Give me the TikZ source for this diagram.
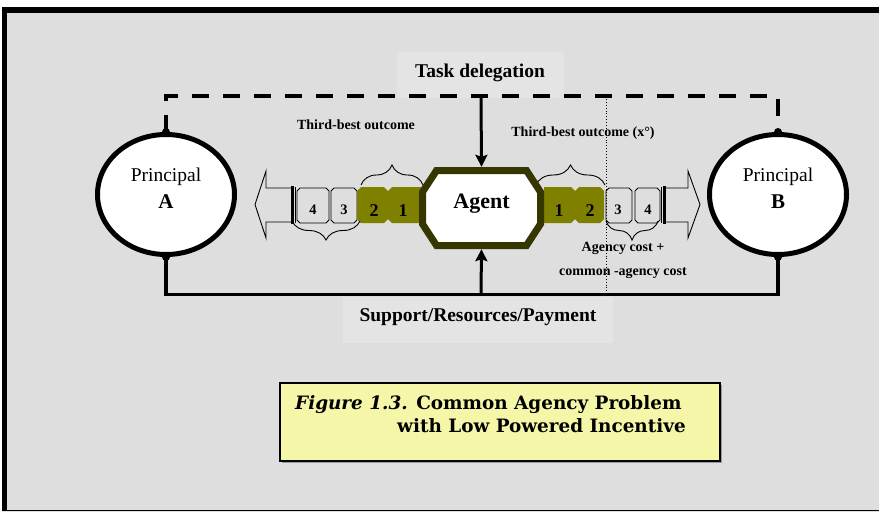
\documentclass[tikz,border=0pt]{standalone}
\usepackage{fontspec}
\setmainfont{Liberation Serif}
\newfontfamily\capfont{DejaVu Serif}
\usetikzlibrary{shapes.geometric,decorations.pathreplacing,arrows.meta}

\definecolor{bggray}{HTML}{DEDEDE}
\definecolor{boxgray}{HTML}{E4E4E4}
\definecolor{blockolive}{HTML}{808000}
\definecolor{agentrim}{HTML}{363600}
\definecolor{capyellow}{HTML}{F5F6A8}
\definecolor{shadowgray}{HTML}{9A9A9A}

\tikzset{
  principal/.style={ellipse, draw=black, line width=5pt, fill=white,
    minimum width=137pt, minimum height=120pt, inner sep=0pt},
  ptxt/.style={font=\fontsize{19.5}{21}\selectfont, inner sep=0pt},
  pletter/.style={font=\fontsize{21}{23}\selectfont\bfseries, inner sep=0pt},
  lbl/.style={font=\fontsize{19.5}{22}\selectfont\bfseries, inner sep=0pt},
  small/.style={font=\fontsize{14}{16}\selectfont\bfseries, inner sep=0pt},
  oliveblk/.style={fill=blockolive, draw=none},
  whiteblk/.style={draw=black, line width=0.8pt},
  onum/.style={font=\fontsize{18}{20}\selectfont\bfseries, inner sep=0pt},
  wnum/.style={font=\fontsize{14.5}{16}\selectfont\bfseries, inner sep=0pt},
  hollow/.style={draw=black, line width=0.9pt, line join=miter},
  dashline/.style={line width=4pt, dash pattern=on 17pt off 14pt},
  solidline/.style={line width=3.5pt},
  arrowline/.style={line width=3pt, -{Stealth[length=12pt,width=12pt,inset=2pt]}},
  bracetop/.style={decorate, decoration={brace, amplitude=20pt}, line width=0.9pt},
  bracebot/.style={decorate, decoration={brace, mirror, amplitude=19pt}, line width=0.9pt},
  captxt/.style={font=\capfont\fontsize{18.4}{21}\selectfont\bfseries, inner sep=0pt, anchor=base west},
}

\begin{document}
\begin{tikzpicture}[x=1pt,y=-1pt]
\useasboundingbox (0,0) rectangle (879,512);

% page, frame and panel
\fill[white] (0,0) rectangle (879,512);
\fill[black] (2,7) rectangle (879,511);
\fill[bggray] (7,13) rectangle (879,509.5);
\fill[bggray] (2,511) rectangle (879,512);

% lighter label panels
\fill[boxgray] (397,52) rectangle (564,98);
\fill[boxgray] (343,297) rectangle (613,343);

% principals
\node[principal] (pa) at (166,194.5) {};
\node[principal] (pb) at (778,194.5) {};
\node[ptxt] (patxt) at (166,177) {Principal};
\node[pletter] (palet) at (166,202) {A};
\node[ptxt] (pbtxt) at (778,177) {Principal};
\node[pletter] (pblet) at (778,202) {B};

% junction points on the two lines
\coordinate (tdj) at (481,96);
\coordinate (spj) at (481,294.5);
\coordinate (dtop) at (606,96);
\coordinate (dbot) at (606,294.5);

% task delegation (dashed) and support (solid) lines
\draw[dashline] (pa.north) -- (166,96) -- (778,96) -- (pb.north);
\draw[solidline] (pa.south) -- (166,294.5) -- (778,294.5) -- (pb.south);
\fill (pa.north) circle (4pt);
\fill (pa.south) circle (4pt);
\fill (pb.north) circle (4pt);
\fill (pb.south) circle (4pt);

% dotted separator
\draw[line width=0.9pt, dotted] (dtop) -- (dbot);

% labels on the lines
\node[lbl] (tasklbl) at (480,73) {Task delegation};
\node[lbl] (suplbl) at (478,317) {Support/Resources/Payment};

% left chain: hollow arrow, double bar, blocks
\draw[hollow] (292,188) -- (266,188) -- (266,171) -- (255,204.5) -- (266,238) -- (266,222) -- (292,222);
\draw[line width=2.6pt] (292.5,186) -- (292.5,224);
\draw[line width=0.8pt] (295.5,187) -- (295.5,223);

\draw[whiteblk] (300,188) -- (326,188) -- (329,191) -- (329,220) -- (326,223) -- (300,223) -- (297,220) -- (297,191) -- cycle;
\draw[whiteblk] (334,188) -- (354,188) -- (357,191) -- (357,220) -- (354,223) -- (334,223) -- (331,220) -- (331,191) -- cycle;
\fill[oliveblk] (361,187) -- (384,187) -- (388,191) -- (388,219) -- (384,223) -- (361,223) -- (357,219) -- (357,191) -- cycle;
\fill[oliveblk] (392,187) -- (421,187) -- (421,223) -- (392,223) -- (388,219) -- (388,191) -- cycle;
\node[wnum] (l4) at (313,210) {4};
\node[wnum] (l3) at (344,210) {3};
\node[onum] (l2) at (374,211) {2};
\node[onum] (l1) at (403,211) {1};

% right chain: blocks, double bar, hollow arrow
\fill[oliveblk] (544,187) -- (571,187) -- (575,191) -- (575,219) -- (571,223) -- (544,223) -- cycle;
\fill[oliveblk] (579,187) -- (600,187) -- (604,191) -- (604,219) -- (600,223) -- (579,223) -- (575,219) -- (575,191) -- cycle;
\draw[whiteblk] (609,188) -- (629,188) -- (632,191) -- (632,220) -- (629,223) -- (609,223) -- (606,220) -- (606,191) -- cycle;
\draw[whiteblk] (638,188) -- (657,188) -- (660,191) -- (660,220) -- (657,223) -- (638,223) -- (635,220) -- (635,191) -- cycle;
\node[onum] (r1) at (559,211) {1};
\node[onum] (r2) at (590,211) {2};
\node[wnum] (r3) at (618,210) {3};
\node[wnum] (r4) at (648,210) {4};
\draw[line width=0.8pt] (661,187) -- (661,223);
\draw[line width=2.6pt] (664.5,186) -- (664.5,224);
\draw[hollow] (665,188) -- (688,188) -- (688,171) -- (700,204.5) -- (688,238) -- (688,222) -- (665,222);

% braces
\draw[bracetop] (361,185) -- (423,185);
\draw[bracebot] (292,221) -- (360,221);
\draw[bracetop] (536,185) -- (605,185);
\draw[bracebot] (606,221) -- (658,221);

% agent
\draw[agentrim, line width=7pt, fill=white, line join=miter]
  (422.5,192) -- (436.5,170.5) -- (526.5,170.5) -- (540.5,192) --
  (540.5,224) -- (526.5,245.5) -- (436.5,245.5) -- (422.5,224) -- cycle;
\node[minimum width=125pt, minimum height=82pt, inner sep=0pt] (agent) at (481.5,208) {};
\node[font=\fontsize{22}{24}\selectfont\bfseries, inner sep=0pt] (agentlbl) at (481.5,204) {Agent};

% arrows into the agent
\draw[arrowline] (tdj) -- (agent.north);
\draw[arrowline] (spj) -- (agent.south);

% outcome and cost notes
\node[small] (tbl) at (356,125) {Third-best outcome};
\node[small] (tbr) at (583,133) {Third-best outcome (x°)};
\node[small] (ac1) at (623,248) {Agency cost +};
\node[small] (ac2) at (623,273) {common -agency cost};

% caption
\fill[shadowgray] (282,385) rectangle (722,463);
\draw[fill=capyellow, line width=1.3pt] (280,383) rectangle (720,461);
\node[captxt] (cap1) at (295,409) {\textit{Figure 1.3.} Common Agency Problem};
\node[captxt] (cap2) at (397,432) {with Low Powered Incentive};
\end{tikzpicture}
\end{document}
